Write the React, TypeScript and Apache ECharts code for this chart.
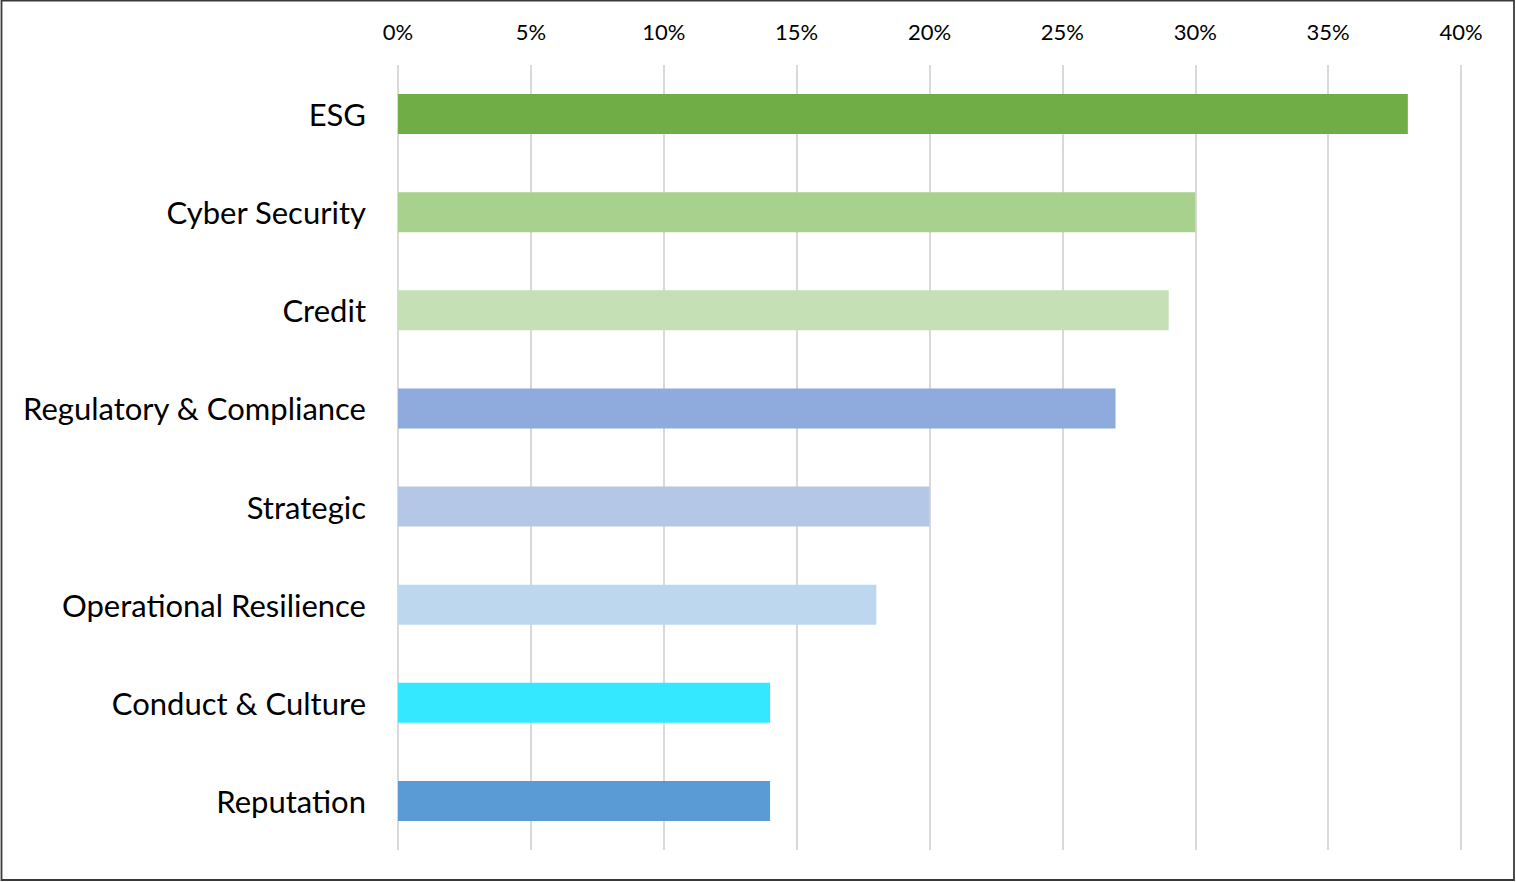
import React, { useEffect, useRef } from "react";
import * as echarts from "echarts";

const categories = [
  "ESG",
  "Cyber Security",
  "Credit",
  "Regulatory & Compliance",
  "Strategic",
  "Operational Resilience",
  "Conduct & Culture",
  "Reputation",
];
const values = [38, 30, 29, 27, 20, 18, 14, 14];
const barColors = [
  "#70AD47",
  "#A9D18E",
  "#C5E0B4",
  "#8FAADC",
  "#B4C7E7",
  "#BDD7EE",
  "#33E8FF",
  "#5B9BD5",
];
const tickMin = 0;
const tickMax = 40;
const tickStep = 5;

export default function App() {
  const ref = useRef<HTMLDivElement>(null);
  useEffect(() => {
    if (!ref.current) return;
    const chart = echarts.init(ref.current, undefined, { renderer: "svg" });
    chart.setOption({
      animation: false,
      backgroundColor: "#ffffff",
      textStyle: { fontFamily: "Lato" },
      graphic: [
        {
          type: "rect",
          shape: { x: 1.5, y: 0.5, width: 1512.5, height: 879.5 },
          style: { fill: "none", stroke: "#3a3a3a", lineWidth: 1.8 },
          silent: true,
        },
      ],
      grid: { left: 398, right: 55, top: 65, bottom: 32, containLabel: false },
      xAxis: {
        type: "value",
        position: "top",
        min: tickMin,
        max: tickMax,
        interval: tickStep,
        axisLine: { show: false },
        axisTick: { show: false },
        axisLabel: {
          formatter: "{value}%",
          color: "#000",
          fontSize: 22,
          fontFamily: "Lato",
          margin: 23,
        },
        splitLine: { show: true, lineStyle: { color: "#d9d9d9", width: 2 } },
      },
      yAxis: {
        type: "category",
        data: categories,
        inverse: true,
        axisLine: { show: false },
        axisTick: { show: false },
        axisLabel: {
          color: "#000",
          fontSize: 31,
          fontFamily: "Lato",
          margin: 32,
        },
      },
      series: [
        {
          type: "bar",
          data: values.map((v, i) => ({ value: v, itemStyle: { color: barColors[i] } })),
          barWidth: 40,
        },
      ],
    });
    return () => chart.dispose();
  }, []);
  return (
    <div
      ref={ref}
      style={{ position: "absolute", left: 0, top: 0, width: 1516, height: 882 }}
    />
  );
}
